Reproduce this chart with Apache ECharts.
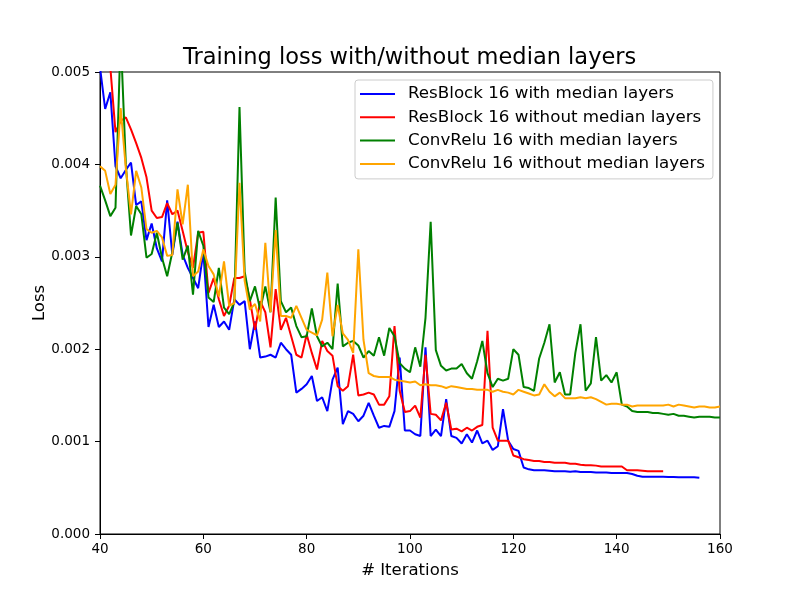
<!DOCTYPE html>
<html>
<head>
<meta charset="utf-8">
<title>Training loss with/without median layers</title>
<script src="https://cdn.jsdelivr.net/npm/echarts@6/dist/echarts.min.js"></script>
<style>
  html, body { margin: 0; padding: 0; background: #fff; }
  #chart { width: 800px; height: 600px; }
</style>
</head>
<body>
<div id="chart"></div>
<script>
// every series starts at iteration 40, one value per iteration
// values are loss x 1e-3
var iterStart = 40

var seriesNames = [
  'ResBlock 16 with median layers',
  'ResBlock 16 without median layers',
  'ConvRelu 16 with median layers',
  'ConvRelu 16 without median layers'
]

// iterations 40 .. 156
var resWith = [
  5.05, 4.60, 4.78, 3.98, 3.85, 3.94, 4.02, 3.56, 3.60, 3.18,
  3.36, 3.09, 2.95, 3.61, 3.02, 3.38, 3.02, 2.88, 2.77, 2.66,
  3.05, 2.24, 2.48, 2.24, 2.30, 2.21, 2.54, 2.48, 2.52, 2.00,
  2.30, 1.91, 1.92, 1.94, 1.91, 2.07, 2.00, 1.94, 1.53, 1.57,
  1.62, 1.71, 1.44, 1.48, 1.33, 1.67, 1.80, 1.19, 1.33, 1.30,
  1.22, 1.28, 1.42, 1.28, 1.15, 1.17, 1.16, 1.33, 1.91, 1.12,
  1.12, 1.08, 1.06, 2.02, 1.06, 1.13, 1.06, 1.46, 1.06, 1.04,
  0.98, 1.08, 0.99, 1.12, 0.98, 1.01, 0.91, 0.95, 1.35, 1.01,
  0.92, 0.90, 0.72, 0.70, 0.69, 0.69, 0.69, 0.685, 0.68, 0.68,
  0.68, 0.675, 0.68, 0.67, 0.67, 0.67, 0.665, 0.665, 0.665, 0.66,
  0.66, 0.66, 0.66, 0.65, 0.63, 0.62, 0.62, 0.62, 0.62, 0.62,
  0.618, 0.618, 0.615, 0.615, 0.615, 0.615, 0.61
]

// iterations 40 .. 149
var resWithout = [
  5.90, 5.50, 5.05, 4.35, 4.47, 4.51, 4.38, 4.23, 4.07, 3.86,
  3.50, 3.42, 3.43, 3.58, 3.46, 3.50, 3.28, 3.05, 2.88, 3.26,
  3.27, 2.61, 2.77, 2.54, 2.36, 2.47, 2.77, 2.77, 2.79, 2.54,
  2.21, 2.52, 2.40, 2.02, 2.65, 2.21, 2.34, 2.14, 1.94, 1.91,
  2.16, 1.96, 1.78, 2.09, 1.98, 1.93, 1.60, 1.55, 1.60, 1.94,
  1.50, 1.51, 1.53, 1.51, 1.40, 1.40, 1.49, 2.25, 1.55, 1.32,
  1.33, 1.39, 1.26, 1.94, 1.30, 1.29, 1.23, 1.42, 1.13, 1.14,
  1.11, 1.15, 1.12, 1.16, 1.18, 2.20, 1.15, 1.01, 1.01, 1.01,
  0.85, 0.83, 0.81, 0.80, 0.79, 0.79, 0.78, 0.78, 0.77, 0.77,
  0.77, 0.76, 0.76, 0.75, 0.745, 0.745, 0.74, 0.73, 0.73, 0.73,
  0.73, 0.73, 0.69, 0.69, 0.69, 0.685, 0.68, 0.68, 0.68, 0.68
]

// iterations 40 .. 160
var convWith = [
  3.77, 3.61, 3.44, 3.53, 5.40, 4.00, 3.23, 3.55, 3.46, 2.99,
  3.03, 3.26, 2.99, 2.79, 3.05, 3.37, 2.97, 3.12, 2.59, 3.28,
  3.12, 2.56, 2.51, 2.88, 2.45, 2.38, 2.51, 4.62, 2.84, 2.52,
  2.68, 2.43, 2.68, 2.40, 3.64, 2.52, 2.40, 2.45, 2.25, 2.13,
  2.14, 2.44, 2.14, 2.03, 2.07, 2.00, 2.71, 2.03, 2.07, 2.09,
  2.04, 1.91, 1.98, 1.93, 2.13, 1.93, 2.23, 2.14, 1.85, 1.79,
  1.75, 2.02, 1.81, 2.34, 3.38, 1.99, 1.82, 1.77, 1.79, 1.79,
  1.84, 1.74, 1.68, 1.87, 2.09, 1.74, 1.59, 1.68, 1.66, 1.68,
  2.00, 1.94, 1.59, 1.58, 1.55, 1.90, 2.07, 2.27, 1.64, 1.75,
  1.51, 1.51, 1.96, 2.27, 1.55, 1.63, 2.13, 1.66, 1.72, 1.64,
  1.75, 1.40, 1.38, 1.33, 1.32, 1.32, 1.32, 1.31, 1.31, 1.30,
  1.29, 1.30, 1.28, 1.28, 1.27, 1.26, 1.27, 1.27, 1.27, 1.26,
  1.26
]

// iterations 40 .. 160
var convWithout = [
  3.98, 3.93, 3.68, 3.78, 4.61, 3.96, 3.46, 3.93, 3.75, 3.30,
  3.26, 3.28, 3.21, 3.01, 3.02, 3.73, 3.35, 3.78, 2.79, 2.84,
  3.08, 2.90, 2.81, 2.57, 2.95, 2.47, 2.50, 3.80, 2.74, 2.43,
  2.49, 2.30, 3.15, 2.40, 3.29, 2.36, 2.36, 2.34, 2.47, 2.34,
  2.21, 2.18, 2.15, 2.32, 2.83, 2.14, 2.48, 2.17, 2.10, 1.96,
  3.08, 2.10, 1.74, 1.71, 1.70, 1.70, 1.70, 1.67, 1.66, 1.65,
  1.64, 1.65, 1.61, 1.62, 1.61, 1.61, 1.60, 1.58, 1.60, 1.59,
  1.58, 1.57, 1.57, 1.56, 1.56, 1.56, 1.54, 1.56, 1.54, 1.53,
  1.51, 1.56, 1.54, 1.52, 1.50, 1.51, 1.62, 1.54, 1.49, 1.53,
  1.47, 1.47, 1.47, 1.48, 1.47, 1.48, 1.46, 1.43, 1.40, 1.41,
  1.41, 1.40, 1.40, 1.38, 1.39, 1.39, 1.39, 1.39, 1.39, 1.39,
  1.40, 1.38, 1.40, 1.39, 1.38, 1.37, 1.38, 1.38, 1.37, 1.37,
  1.38
]

var xTicks = [40, 60, 80, 100, 120, 140, 160]
var yTicks = [0, 0.001, 0.002, 0.003, 0.004, 0.005]

var colors = ['#0000ff', '#ff0000', '#008000', '#ffa500']
var font = 'DejaVu Sans'

function toPoints (values) {
  return values.map(function (v, i) {
    return [iterStart + i, v / 1000]
  })
}

var allValues = [resWith, resWithout, convWith, convWithout]

var option = {
  animation: false,
  backgroundColor: '#ffffff',
  title: {
    text: 'Training loss with/without median layers',
    left: 178,
    top: 42,
    textStyle: { fontFamily: font, fontSize: 22.5, fontWeight: 'normal', color: '#000' }
  },
  grid: {
    left: 100,
    right: 80,
    top: 72,
    bottom: 66,
    show: true,
    borderColor: '#000',
    borderWidth: 1,
    backgroundColor: 'transparent'
  },
  legend: {
    orient: 'vertical',
    left: 355,
    top: 80,
    padding: [4, 8, 5, 5],
    itemWidth: 35,
    itemHeight: 2,
    itemGap: 3.3,
    icon: 'rect',
    backgroundColor: 'rgba(255,255,255,0.8)',
    borderColor: '#cccccc',
    borderWidth: 1,
    borderRadius: 3,
    textStyle: { fontFamily: font, fontSize: 16.7, lineHeight: 20, color: '#000', padding: [0, 0, 0, 8] },
    data: seriesNames
  },
  xAxis: {
    type: 'value',
    min: xTicks[0],
    max: xTicks[xTicks.length - 1],
    interval: 20,
    name: '# Iterations',
    nameLocation: 'middle',
    nameGap: 28,
    nameTextStyle: { fontFamily: font, fontSize: 16.5, color: '#000' },
    axisLine: { show: true, lineStyle: { color: '#000', width: 1 } },
    axisTick: { show: true, inside: false, length: 5, lineStyle: { color: '#000' } },
    axisLabel: { fontFamily: font, fontSize: 13.5, color: '#000', margin: 8 },
    splitLine: { show: false }
  },
  yAxis: {
    type: 'value',
    min: yTicks[0],
    max: yTicks[yTicks.length - 1],
    interval: 0.001,
    name: 'Loss',
    nameLocation: 'middle',
    nameGap: 52,
    nameMoveOverlap: false,
    nameTextStyle: { fontFamily: font, fontSize: 16.5, color: '#000' },
    axisLine: { show: true, lineStyle: { color: '#000', width: 1 } },
    axisTick: { show: true, inside: false, length: 5, lineStyle: { color: '#000' } },
    axisLabel: {
      fontFamily: font,
      fontSize: 13.5,
      color: '#000',
      margin: 10,
      formatter: function (v) { return v.toFixed(3) }
    },
    splitLine: { show: false }
  },
  series: seriesNames.map(function (name, k) {
    return {
      name: name,
      type: 'line',
      data: toPoints(allValues[k]),
      symbol: 'none',
      clip: true,
      color: colors[k],
      lineStyle: { color: colors[k], width: 2 }
    }
  })
}

var chart = echarts.init(document.getElementById('chart'), null, { renderer: 'canvas' })
chart.setOption(option)
</script>
</body>
</html>
